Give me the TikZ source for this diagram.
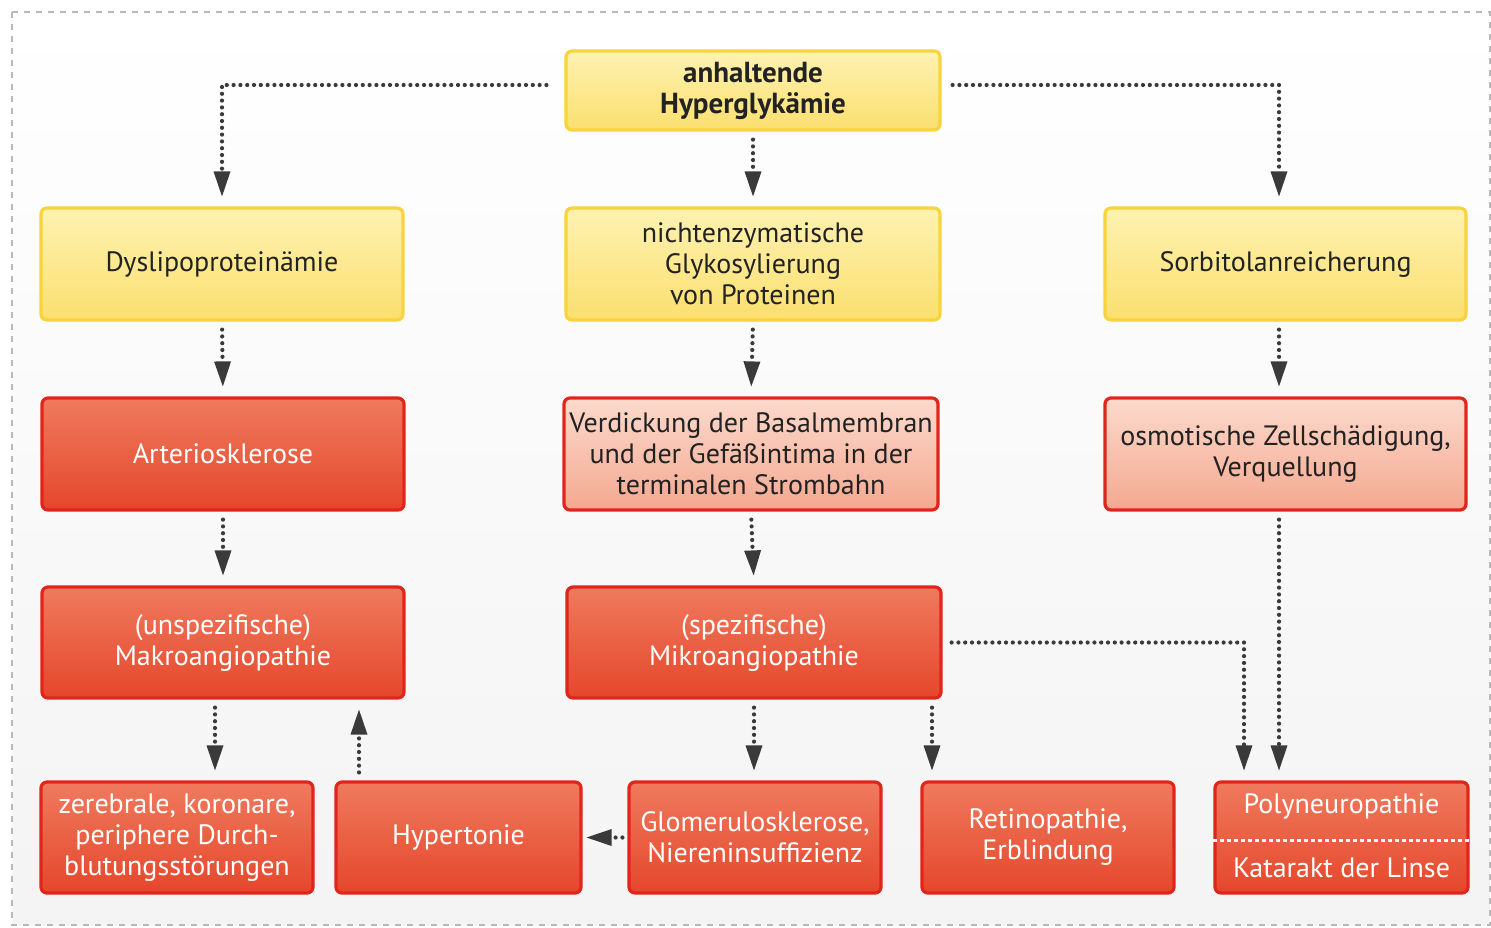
\documentclass[tikz,border=0pt]{standalone}
\usepackage{fontspec}
\setmainfont{PT Sans}
\usetikzlibrary{arrows.meta}

\definecolor{ink}{HTML}{222222}
\definecolor{pfeil}{HTML}{3A3A3A}
\definecolor{gelbhell}{HTML}{FDF2B2}
\definecolor{gelbdunkel}{HTML}{FBDF6E}
\definecolor{gelbrand}{HTML}{F8D33C}
\definecolor{rothell}{HTML}{EF7A5E}
\definecolor{rotdunkel}{HTML}{E5472B}
\definecolor{rotrand}{HTML}{E0261C}
\definecolor{rosahell}{HTML}{FCDACC}
\definecolor{rosadunkel}{HTML}{F4A890}

\begin{document}
\begin{tikzpicture}[x=0.5pt, y=-0.5pt,
  box/.style={draw, line width=1.6pt, rounded corners=3pt, align=center, inner sep=0pt,
    font=\fontsize{14}{15.5}\selectfont},
  gelb/.style={box, draw=gelbrand, top color=gelbhell, bottom color=gelbdunkel, text=ink},
  rot/.style={box, draw=rotrand, top color=rothell, bottom color=rotdunkel, text=white},
  rosa/.style={box, draw=rotrand, top color=rosahell, bottom color=rosadunkel, text=ink},
  flow/.style={draw=pfeil, line width=2.1pt, dash pattern=on 0pt off 3.4pt, line cap=round,
    -{Triangle[length=12.5pt, width=8.5pt, line width=0pt]}, shorten <=4pt, shorten >=5pt}]

\useasboundingbox (0,0) rectangle (1491,927);
\draw[gray!55, dashed, line width=0.6pt, top color=white, bottom color=gray!9] (12,12) rectangle (1490,925);

\node[gelb, minimum width=187pt, minimum height=39.5pt, font=\fontsize{14.5}{15.5}\selectfont\bfseries] (hyper) at (753,90.5) {anhaltende\\Hyperglykämie};

\node[gelb, minimum width=181pt, minimum height=56pt] (dyslip) at (222,264) {Dyslipoproteinämie};
\node[gelb, minimum width=187pt, minimum height=56pt] (glyko) at (753,264) {nichtenzymatische\\Glykosylierung\\von Proteinen};
\node[gelb, minimum width=180.5pt, minimum height=56pt] (sorb) at (1285.5,264) {Sorbitolanreicherung};

\node[rot, minimum width=181pt, minimum height=56pt] (arterio) at (223,454) {Arteriosklerose};
\node[rosa, minimum width=187pt, minimum height=56pt] (verd) at (751,454) {Verdickung der Basalmembran\\und der Gefäßintima in der\\terminalen Strombahn};
\node[rosa, minimum width=180.5pt, minimum height=56pt] (osmo) at (1285.5,454) {osmotische Zellschädigung,\\Verquellung};

\node[rot, minimum width=181pt, minimum height=55.5pt] (makro) at (223,642.5) {(unspezifische)\\Makroangiopathie};
\node[rot, minimum width=187pt, minimum height=55.5pt] (mikro) at (754,642.5) {(spezifische)\\Mikroangiopathie};

\node[rot, minimum width=136pt, minimum height=55.5pt] (zer) at (177,837.5) {zerebrale, koronare,\\periphere Durch-\\blutungsstörungen};
\node[rot, minimum width=122.5pt, minimum height=55.5pt] (hypt) at (458.5,837.5) {Hypertonie};
\node[rot, minimum width=126pt, minimum height=55.5pt] (glom) at (755,837.5) {Glomerulosklerose,\\Niereninsuffizienz};
\node[rot, minimum width=126pt, minimum height=55.5pt] (retino) at (1048,837.5) {Retinopathie,\\Erblindung};
\node[rot, minimum width=126.5pt, minimum height=55.5pt] (poly) at (1341.5,837.5) {};
\node[text=white, font=\fontsize{14}{15.5}\selectfont] (polytxt) at (1341.5,806) {Polyneuropathie};
\node[text=white, font=\fontsize{14}{15.5}\selectfont] (kattxt) at (1341.5,868) {Katarakt der Linse};
\coordinate (trenn) at (1341.5,840);
\draw[white, line width=1.5pt, dash pattern=on 2pt off 1.5pt] (poly.west |- trenn) -- (poly.east |- trenn);

\coordinate (zx) at (215,0);
\coordinate (hx) at (359,0);
\coordinate (rx) at (932,0);
\coordinate (px) at (1244,0);
\coordinate (ox) at (1279,0);
\coordinate (ty) at (0,85);

\draw[flow, shorten <=9pt] (hyper.west |- ty) -| (dyslip.north);
\draw[flow, shorten <=5.5pt] (hyper.east |- ty) -| (ox |- sorb.north);
\draw[flow] (hyper.south) -- (glyko.north);

\draw[flow] (dyslip.south) -- (arterio.north);
\draw[flow] (glyko.south) -- (verd.north);
\draw[flow] (ox |- sorb.south) -- (ox |- osmo.north);

\draw[flow] (arterio.south) -- (makro.north);
\draw[flow] (verd.south) -- (mikro.north);
\draw[flow] (ox |- osmo.south) -- (ox |- poly.north);
\draw[flow, shorten <=4.5pt] (mikro.east) -| (px |- poly.north);

\draw[flow] (zx |- makro.south) -- (zx |- zer.north);
\draw[flow] (hx |- hypt.north) -- (hx |- makro.south);
\draw[flow] (mikro.south) -- (mikro.south |- glom.north);
\draw[flow] (rx |- mikro.south) -- (rx |- retino.north);
\draw[flow, shorten <=2.5pt, shorten >=2pt] (glom.west) -- (hypt.east);

\end{tikzpicture}
\end{document}
